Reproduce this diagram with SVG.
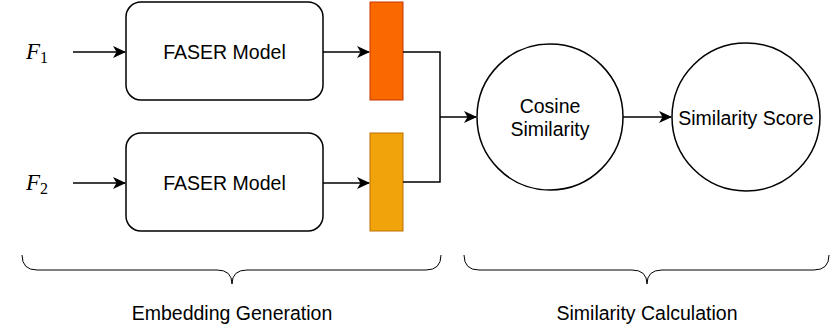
<svg xmlns="http://www.w3.org/2000/svg" width="831" height="332" viewBox="0 0 831 332">
<defs>
<marker id="arr" markerWidth="13" markerHeight="12" refX="12" refY="6" orient="auto" markerUnits="userSpaceOnUse">
<path d="M0,0 L13,6 L0,12 L3.5,6 Z" fill="#000"/>
</marker>
<style>
.box{fill:#fff;stroke:#000;stroke-width:1.5}
.t{font-family:"Liberation Sans",Arial,sans-serif;font-size:19.5px;fill:#000;text-anchor:middle;dominant-baseline:central}
.m{font-family:"Liberation Serif","DejaVu Serif",serif;font-style:italic;font-size:23px;fill:#000}
.sub{font-family:"Liberation Serif","DejaVu Serif",serif;font-style:normal;font-size:16px}
.ln{fill:none;stroke:#000;stroke-width:1.5}
.br{fill:none;stroke:#000;stroke-width:1}
</style>
</defs>
<g id="f1"><text class="m" x="26" y="59">F<tspan class="sub" dy="4">1</tspan></text></g>
<g id="f2"><text class="m" x="26" y="190">F<tspan class="sub" dy="4">2</tspan></text></g>
<g id="model1"><rect class="box" x="126" y="2" width="197" height="98" rx="15"/><text class="t" x="224.5" y="52">FASER Model</text></g>
<g id="model2"><rect class="box" x="126" y="133" width="197" height="98" rx="15"/><text class="t" x="224.5" y="183">FASER Model</text></g>
<g id="emb1"><rect x="370" y="2" width="33" height="98" fill="#FA6800" stroke="#C73500" stroke-width="1"/></g>
<g id="emb2"><rect x="370" y="133" width="33" height="98" fill="#F0A30A" stroke="#BD7000" stroke-width="1"/></g>
<g id="cosine"><circle class="box" cx="550" cy="117" r="73"/><text class="t" x="550" y="106">Cosine</text><text class="t" x="550" y="129">Similarity</text></g>
<g id="score"><circle class="box" cx="746" cy="117" r="74"/><text class="t" x="746" y="118">Similarity Score</text></g>
<g id="connectors">
<line class="ln" x1="73" y1="52" x2="125" y2="52" marker-end="url(#arr)"/>
<line class="ln" x1="73" y1="183" x2="125" y2="183" marker-end="url(#arr)"/>
<line class="ln" x1="323" y1="52" x2="369" y2="52" marker-end="url(#arr)"/>
<line class="ln" x1="323" y1="183" x2="369" y2="183" marker-end="url(#arr)"/>
<path class="ln" d="M403,52 H440 V182 H403"/>
<line class="ln" x1="440" y1="117" x2="476" y2="117" marker-end="url(#arr)"/>
<line class="ln" x1="623" y1="117" x2="671" y2="117" marker-end="url(#arr)"/>
</g>
<g id="brace1"><path class="br" d="M22,255 Q22,270 37,270 L217,270 Q232,270 232,284 Q232,270 247,270 L426,270 Q441,270 441,255"/><text class="t" x="232" y="313">Embedding Generation</text></g>
<g id="brace2"><path class="br" d="M464,255 Q464,270 479,270 L632,270 Q647,270 647,284 Q647,270 662,270 L814,270 Q829,270 829,255"/><text class="t" x="647" y="313">Similarity Calculation</text></g>
</svg>
